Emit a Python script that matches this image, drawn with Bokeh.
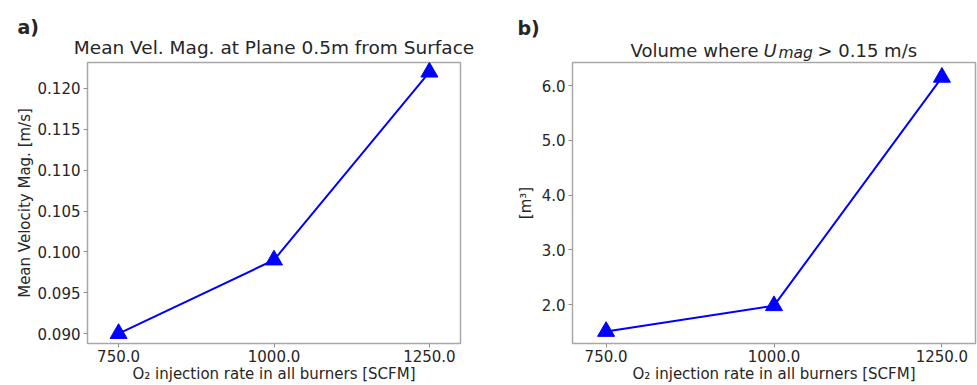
from bokeh.plotting import figure
from bokeh.layouts import row, column
from bokeh.models import Range1d, FixedTicker, NumeralTickFormatter, Label
from bokeh.embed import file_html
from bokeh.resources import INLINE

# O2 injection rates (SCFM) and the two measured responses
o2_rate = [750, 1000, 1250]
mean_vel = [0.0900, 0.0990, 0.1220]   # m/s, mean velocity magnitude at plane 0.5 m from surface
volume = [1.51, 1.98, 6.15]           # m^3, volume where U_mag > 0.15 m/s

x_ticks = [750, 1000, 1250]
vel_ticks = [0.090, 0.095, 0.100, 0.105, 0.110, 0.115, 0.120]
vol_ticks = [2.0, 3.0, 4.0, 5.0, 6.0]

FONT = "DejaVu Sans"
BLUE = "#0000ff"
FRAME = "#a8a8a8"
TEXT = "#262626"
W, H = 977, 385
HEAD = 61          # height of the strip holding panel letters and titles


def add_text(p, x, y, text, size, style="normal", align="left"):
    # x: pixels from the left edge; y: baseline, pixels from the page top
    lift = 0.36 * size   # the svg text is placed about this far below the requested baseline
    p.add_layout(Label(x=x, y=HEAD - y + lift, x_units="screen", y_units="screen", text=text,
                       text_font=FONT, text_font_size=f"{size}px",
                       text_font_style=style, text_color=TEXT,
                       text_align=align, text_baseline="alphabetic"))


def make_panel(width, height, left, right, top, bottom, y_lo, y_hi, y_ticks, y_fmt,
               y_label, y_label_standoff, values):
    p = figure(width=width, height=height, output_backend="svg", toolbar_location=None,
               title=None,
               x_range=Range1d(700, 1300), y_range=Range1d(y_lo, y_hi),
               min_border_left=left, min_border_right=right,
               min_border_top=top, min_border_bottom=bottom)
    p.background_fill_color = "white"
    p.border_fill_color = "white"
    p.outline_line_color = FRAME
    p.outline_line_width = 1.5
    p.xgrid.visible = False
    p.ygrid.visible = False

    p.xaxis.ticker = FixedTicker(ticks=x_ticks)
    p.xaxis.formatter = NumeralTickFormatter(format="0.0")
    p.yaxis.ticker = FixedTicker(ticks=y_ticks)
    p.yaxis.formatter = NumeralTickFormatter(format=y_fmt)

    for ax in (p.xaxis, p.yaxis):
        ax.axis_line_color = None
        ax.major_tick_line_color = "#909090"
        ax.major_tick_out = 4
        ax.major_tick_in = 0
        ax.minor_tick_line_color = None
        ax.major_label_text_font = FONT
        ax.major_label_text_font_size = "15px"
        ax.major_label_text_color = TEXT
        ax.axis_label_text_font = FONT
        ax.axis_label_text_font_size = "15px"
        ax.axis_label_text_font_style = "normal"
        ax.axis_label_text_color = TEXT

    p.xaxis.axis_label = "O\u2082 injection rate in all burners [SCFM]"
    p.xaxis.major_label_standoff = 2
    p.xaxis.axis_label_standoff = 0
    p.yaxis.axis_label = y_label
    p.yaxis.major_label_standoff = 3
    p.yaxis.axis_label_standoff = y_label_standoff

    p.line(o2_rate, values, line_color=BLUE, line_width=2)
    p.scatter(o2_rate, values, marker="triangle", size=17,
              fill_color=BLUE, line_color=BLUE)
    return p


# Header strip with panel letters and titles
head = figure(width=W, height=HEAD, output_backend="svg", toolbar_location=None,
              title=None, x_axis_type=None, y_axis_type=None,
              x_range=Range1d(0, W), y_range=Range1d(0, HEAD), min_border=0)
head.outline_line_color = None
head.background_fill_color = "white"
head.border_fill_color = "white"

add_text(head, 17, 33, "a)", 19, style="bold")
add_text(head, 273.5, 54, "Mean Vel. Mag. at Plane 0.5m from Surface", 18.5, align="center")

add_text(head, 517, 34, "b)", 19, style="bold")
add_text(head, 630, 56.5, "Volume where", 18)
add_text(head, 763, 56.5, "U", 18, style="italic")
add_text(head, 778, 58, "mag", 15.5, style="italic")
add_text(head, 817, 56.5, "> 0.15 m/s", 18)

# a) mean velocity magnitude
pa = make_panel(490, H - HEAD, 87, 30, 1, 41, 0.08878, 0.12318, vel_ticks, "0.000",
                "Mean Velocity Mag. [m/s]", 1, mean_vel)

# b) volume above the velocity threshold
pb = make_panel(487, H - HEAD, 82, 2, 1, 41, 1.29, 6.42, vol_ticks, "0.0",
                "[m\u00b3]", 4, volume)

layout = column(head, row(pa, pb))
open("out.html", "w").write(file_html(layout, INLINE))
